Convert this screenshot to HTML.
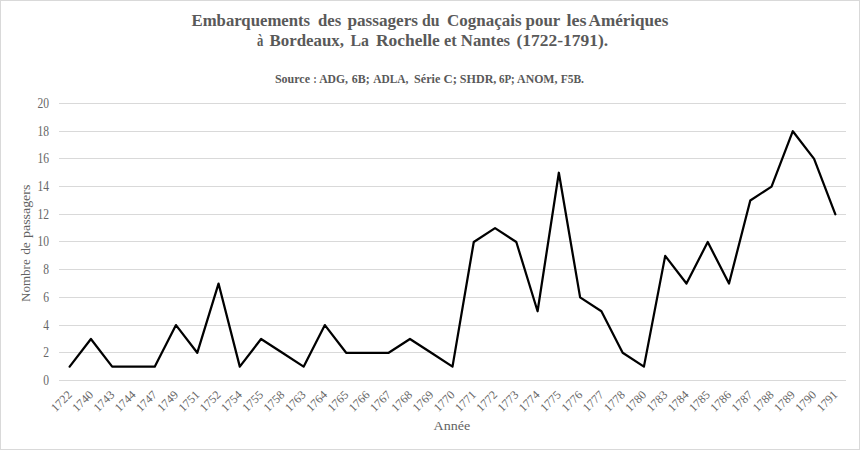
<!DOCTYPE html>
<html><head><meta charset="utf-8">
<style>
html,body{margin:0;padding:0;background:#fff;}
body{width:860px;height:450px;overflow:hidden;position:relative;}
svg{position:absolute;left:0;top:0;}
text{font-family:"Liberation Serif",serif;fill:#595959;}
.yl{font-size:13.6px;fill:#666;}
.xl{font-size:12px;fill:#666;}
.t{font-size:16px;font-weight:bold;}
.s{font-size:12px;font-weight:bold;}
.ax{font-size:13px;fill:#626262;}
</style></head><body>
<svg width="860" height="450" viewBox="0 0 860 450">
<rect x="0.5" y="0.5" width="859" height="449" fill="#fff" stroke="#d9d9d9" stroke-width="1"/>
<text transform="translate(191.50,26) scale(1.0462,1)" class="t">Embarquements</text>
<text transform="translate(318.00,26) scale(1.0455,1)" class="t">des</text>
<text transform="translate(347.40,26) scale(1.0739,1)" class="t">passagers</text>
<text transform="translate(421.90,26) scale(0.9833,1)" class="t">du</text>
<text transform="translate(447.10,26) scale(1.0629,1)" class="t">Cognaçais</text>
<text transform="translate(525.60,26) scale(1.0550,1)" class="t">pour</text>
<text transform="translate(566.40,26) scale(1.1284,1)" class="t">les</text>
<text transform="translate(588.60,26) scale(1.0681,1)" class="t">Amériques</text>
<text transform="translate(257.10,46) scale(0.7875,1)" class="t">à</text>
<text transform="translate(269.50,46) scale(1.0542,1)" class="t">Bordeaux,</text>
<text transform="translate(350.50,46) scale(0.9908,1)" class="t">La</text>
<text transform="translate(376.00,46) scale(1.0897,1)" class="t">Rochelle</text>
<text transform="translate(444.00,46) scale(1.0228,1)" class="t">et</text>
<text transform="translate(460.80,46) scale(1.0473,1)" class="t">Nantes</text>
<text transform="translate(516.50,46) scale(1.0907,1)" class="t">(1722-1791).</text>
<text transform="translate(274.90,83) scale(1.0005,1)" class="s">Source</text>
<text transform="translate(313.50,83) scale(0.7667,1)" class="s">:</text>
<text transform="translate(319.20,83) scale(0.9708,1)" class="s">ADG,</text>
<text transform="translate(351.80,83) scale(0.9942,1)" class="s">6B;</text>
<text transform="translate(373.20,83) scale(0.9513,1)" class="s">ADLA,</text>
<text transform="translate(414.10,83) scale(1.0090,1)" class="s">Série</text>
<text transform="translate(443.50,83) scale(1.0658,1)" class="s">C;</text>
<text transform="translate(459.80,83) scale(1.0072,1)" class="s">SHDR,</text>
<text transform="translate(498.90,83) scale(0.9175,1)" class="s">6P;</text>
<text transform="translate(517.10,83) scale(0.9856,1)" class="s">ANOM,</text>
<text transform="translate(560.70,83) scale(0.9575,1)" class="s">F5B.</text>
<text transform="translate(30,302.00) rotate(-90) scale(1.0040,1)" class="ax">Nombre</text>
<text transform="translate(30,254.80) rotate(-90) scale(1.0240,1)" class="ax">de</text>
<text transform="translate(30,238.00) rotate(-90) scale(1.0712,1)" class="ax">passagers</text>
<text transform="translate(451.9,430) scale(1.08,1)" text-anchor="middle" class="ax" style="font-size:13px">Année</text>
<rect x="59.0" y="380" width="787.0" height="1" fill="#d9d9d9"/>
<rect x="59.0" y="352" width="787.0" height="1" fill="#d9d9d9"/>
<rect x="59.0" y="325" width="787.0" height="1" fill="#d9d9d9"/>
<rect x="59.0" y="297" width="787.0" height="1" fill="#d9d9d9"/>
<rect x="59.0" y="269" width="787.0" height="1" fill="#d9d9d9"/>
<rect x="59.0" y="241" width="787.0" height="1" fill="#d9d9d9"/>
<rect x="59.0" y="214" width="787.0" height="1" fill="#d9d9d9"/>
<rect x="59.0" y="186" width="787.0" height="1" fill="#d9d9d9"/>
<rect x="59.0" y="158" width="787.0" height="1" fill="#d9d9d9"/>
<rect x="59.0" y="131" width="787.0" height="1" fill="#d9d9d9"/>
<rect x="59.0" y="103" width="787.0" height="1" fill="#d9d9d9"/>
<text transform="translate(49,384.5) scale(0.85,1)" text-anchor="end" class="yl">0</text>
<text transform="translate(49,356.5) scale(0.85,1)" text-anchor="end" class="yl">2</text>
<text transform="translate(49,329.5) scale(0.85,1)" text-anchor="end" class="yl">4</text>
<text transform="translate(49,301.5) scale(0.85,1)" text-anchor="end" class="yl">6</text>
<text transform="translate(49,273.5) scale(0.85,1)" text-anchor="end" class="yl">8</text>
<text transform="translate(49,245.5) scale(0.85,1)" text-anchor="end" class="yl">10</text>
<text transform="translate(49,218.5) scale(0.85,1)" text-anchor="end" class="yl">12</text>
<text transform="translate(49,190.5) scale(0.85,1)" text-anchor="end" class="yl">14</text>
<text transform="translate(49,162.5) scale(0.85,1)" text-anchor="end" class="yl">16</text>
<text transform="translate(49,135.5) scale(0.85,1)" text-anchor="end" class="yl">18</text>
<text transform="translate(49,107.5) scale(0.85,1)" text-anchor="end" class="yl">20</text>
<text transform="translate(72.64,395.5) rotate(-45)" text-anchor="end" class="xl">1722</text>
<text transform="translate(93.91,395.5) rotate(-45)" text-anchor="end" class="xl">1740</text>
<text transform="translate(115.18,395.5) rotate(-45)" text-anchor="end" class="xl">1743</text>
<text transform="translate(136.45,395.5) rotate(-45)" text-anchor="end" class="xl">1744</text>
<text transform="translate(157.72,395.5) rotate(-45)" text-anchor="end" class="xl">1747</text>
<text transform="translate(178.99,395.5) rotate(-45)" text-anchor="end" class="xl">1749</text>
<text transform="translate(200.26,395.5) rotate(-45)" text-anchor="end" class="xl">1751</text>
<text transform="translate(221.53,395.5) rotate(-45)" text-anchor="end" class="xl">1752</text>
<text transform="translate(242.80,395.5) rotate(-45)" text-anchor="end" class="xl">1754</text>
<text transform="translate(264.07,395.5) rotate(-45)" text-anchor="end" class="xl">1755</text>
<text transform="translate(285.34,395.5) rotate(-45)" text-anchor="end" class="xl">1758</text>
<text transform="translate(306.61,395.5) rotate(-45)" text-anchor="end" class="xl">1763</text>
<text transform="translate(327.88,395.5) rotate(-45)" text-anchor="end" class="xl">1764</text>
<text transform="translate(349.15,395.5) rotate(-45)" text-anchor="end" class="xl">1765</text>
<text transform="translate(370.42,395.5) rotate(-45)" text-anchor="end" class="xl">1766</text>
<text transform="translate(391.69,395.5) rotate(-45)" text-anchor="end" class="xl">1767</text>
<text transform="translate(412.96,395.5) rotate(-45)" text-anchor="end" class="xl">1768</text>
<text transform="translate(434.23,395.5) rotate(-45)" text-anchor="end" class="xl">1769</text>
<text transform="translate(455.50,395.5) rotate(-45)" text-anchor="end" class="xl">1770</text>
<text transform="translate(476.77,395.5) rotate(-45)" text-anchor="end" class="xl">1771</text>
<text transform="translate(498.04,395.5) rotate(-45)" text-anchor="end" class="xl">1772</text>
<text transform="translate(519.31,395.5) rotate(-45)" text-anchor="end" class="xl">1773</text>
<text transform="translate(540.58,395.5) rotate(-45)" text-anchor="end" class="xl">1774</text>
<text transform="translate(561.85,395.5) rotate(-45)" text-anchor="end" class="xl">1775</text>
<text transform="translate(583.12,395.5) rotate(-45)" text-anchor="end" class="xl">1776</text>
<text transform="translate(604.39,395.5) rotate(-45)" text-anchor="end" class="xl">1777</text>
<text transform="translate(625.66,395.5) rotate(-45)" text-anchor="end" class="xl">1778</text>
<text transform="translate(646.93,395.5) rotate(-45)" text-anchor="end" class="xl">1780</text>
<text transform="translate(668.20,395.5) rotate(-45)" text-anchor="end" class="xl">1783</text>
<text transform="translate(689.47,395.5) rotate(-45)" text-anchor="end" class="xl">1784</text>
<text transform="translate(710.74,395.5) rotate(-45)" text-anchor="end" class="xl">1785</text>
<text transform="translate(732.01,395.5) rotate(-45)" text-anchor="end" class="xl">1786</text>
<text transform="translate(753.28,395.5) rotate(-45)" text-anchor="end" class="xl">1787</text>
<text transform="translate(774.55,395.5) rotate(-45)" text-anchor="end" class="xl">1788</text>
<text transform="translate(795.82,395.5) rotate(-45)" text-anchor="end" class="xl">1789</text>
<text transform="translate(817.09,395.5) rotate(-45)" text-anchor="end" class="xl">1790</text>
<text transform="translate(838.36,395.5) rotate(-45)" text-anchor="end" class="xl">1791</text>
<polyline points="69.64,366.65 90.91,338.95 112.18,366.65 133.45,366.65 154.72,366.65 175.99,325.10 197.26,352.80 218.53,283.55 239.80,366.65 261.07,338.95 282.34,352.80 303.61,366.65 324.88,325.10 346.15,352.80 367.42,352.80 388.69,352.80 409.96,338.95 431.23,352.80 452.50,366.65 473.77,242.00 495.04,228.15 516.31,242.00 537.58,311.25 558.85,172.75 580.12,297.40 601.39,311.25 622.66,352.80 643.93,366.65 665.20,255.85 686.47,283.55 707.74,242.00 729.01,283.55 750.28,200.45 771.55,186.60 792.82,131.20 814.09,158.90 835.36,214.30" fill="none" stroke="#000" stroke-width="2.25" stroke-linejoin="round" stroke-linecap="round"/>
</svg>
</body></html>
